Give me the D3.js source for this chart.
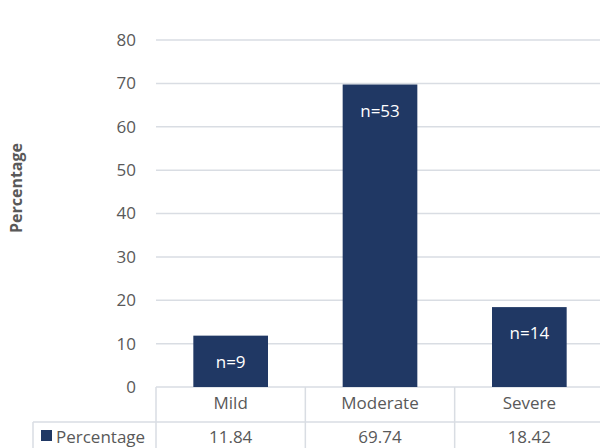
<!DOCTYPE html>
<html>
<head>
<meta charset="utf-8">
<script src="https://cdn.jsdelivr.net/npm/d3@7"></script>
<style>
  body { margin: 0; background: #fff; }
  text { font-family: "Open Sans", "Noto Sans", sans-serif; }
</style>
</head>
<body>
<svg id="chart" width="600" height="448"></svg>
<script>
const categories = ['Mild', 'Moderate', 'Severe'];
const percentages = [11.84, 69.74, 18.42];
const counts = ['n=9', 'n=53', 'n=14'];
const yTicks = [0, 10, 20, 30, 40, 50, 60, 70, 80];
const seriesName = 'Percentage';

const barColor = '#203864';
const gridColor = '#d9dde3';
const textColor = '#595959';
const fontSize = '17px';

const svg = d3.select('#chart');
const plotLeft = 156, plotRight = 604, plotTop = 40, plotBottom = 387;

const x = d3.scaleBand().domain(categories).range([plotLeft, plotRight]).paddingInner(0.5).paddingOuter(0.25);
const y = d3.scaleLinear().domain([0, 80]).range([plotBottom, plotTop]);

// gridlines
svg.append('g')
  .selectAll('line')
  .data(yTicks)
  .join('line')
  .attr('x1', plotLeft).attr('x2', plotRight)
  .attr('y1', d => y(d)).attr('y2', d => y(d))
  .attr('stroke', gridColor).attr('stroke-width', 1.5);

// y axis labels
const yAxis = d3.axisLeft(y).tickValues(yTicks).tickSize(0).tickPadding(20);
svg.append('g')
  .attr('transform', `translate(${plotLeft},0)`)
  .call(yAxis)
  .call(g => g.select('.domain').remove())
  .selectAll('text')
  .attr('fill', textColor)
  .style('font-size', fontSize)
  .style('font-family', '"Open Sans", "Noto Sans", sans-serif');

// y title
svg.append('text')
  .attr('transform', 'translate(22,188) rotate(-90)')
  .attr('text-anchor', 'middle')
  .attr('fill', textColor)
  .style('font-size', '16px')
  .style('font-weight', 'bold')
  .text(seriesName);

// bars
svg.append('g')
  .selectAll('rect')
  .data(categories)
  .join('rect')
  .attr('x', d => x(d))
  .attr('width', x.bandwidth())
  .attr('y', (d, i) => y(percentages[i]))
  .attr('height', (d, i) => y(0) - y(percentages[i]))
  .attr('fill', barColor);

// bar labels
svg.append('g')
  .selectAll('text')
  .data(categories)
  .join('text')
  .attr('x', d => x(d) + x.bandwidth() / 2)
  .attr('y', (d, i) => y(percentages[i]) + 32)
  .attr('text-anchor', 'middle')
  .attr('fill', '#fff')
  .style('font-size', fontSize)
  .text((d, i) => counts[i]);

// data table
const rowMid = 422, tableBottom = 448, tableLeft = 33;
const cols = x.domain().map(d => x(d) - x.step() * x.paddingInner() / 2);
const border = svg.append('g').attr('stroke', gridColor).attr('stroke-width', 1.5);
cols.concat([plotRight]).forEach(cx => {
  border.append('line').attr('x1', cx).attr('x2', cx).attr('y1', plotBottom).attr('y2', tableBottom);
});
border.append('line').attr('x1', tableLeft).attr('x2', plotRight).attr('y1', rowMid).attr('y2', rowMid);
border.append('line').attr('x1', tableLeft).attr('x2', tableLeft).attr('y1', rowMid).attr('y2', tableBottom);

svg.append('g')
  .selectAll('text')
  .data(categories)
  .join('text')
  .attr('x', d => x(d) + x.bandwidth() / 2)
  .attr('y', 409)
  .attr('text-anchor', 'middle')
  .attr('fill', textColor)
  .style('font-size', fontSize)
  .text(d => d);

svg.append('g')
  .selectAll('text')
  .data(percentages)
  .join('text')
  .attr('x', (d, i) => x(categories[i]) + x.bandwidth() / 2)
  .attr('y', 443)
  .attr('text-anchor', 'middle')
  .attr('fill', textColor)
  .style('font-size', fontSize)
  .text(d => d.toFixed(2));

svg.append('rect')
  .attr('x', 41).attr('y', 430).attr('width', 11).attr('height', 11)
  .attr('fill', barColor);
svg.append('text')
  .attr('x', 56).attr('y', 443)
  .attr('fill', textColor)
  .style('font-size', fontSize)
  .text(seriesName);
</script>
</body>
</html>
